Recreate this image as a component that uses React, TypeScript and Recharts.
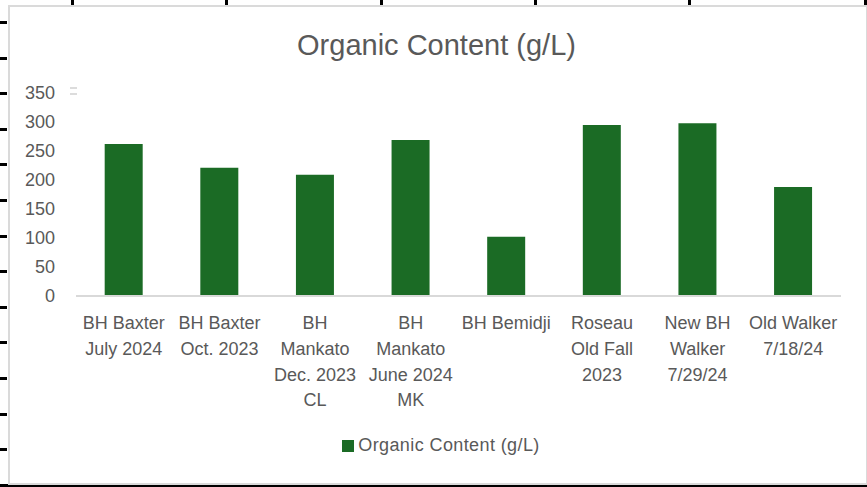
import React from "react";
import { BarChart, Bar, XAxis, YAxis, Legend } from "recharts";

// Sample names, line breaks as they wrap under the axis
const CATEGORIES = [
  "BH Baxter\nJuly 2024",
  "BH Baxter\nOct. 2023",
  "BH\nMankato\nDec. 2023\nCL",
  "BH\nMankato\nJune 2024\nMK",
  "BH Bemidji",
  "Roseau\nOld Fall\n2023",
  "New BH\nWalker\n7/29/24",
  "Old Walker\n7/18/24",
];

const ORGANIC_CONTENT = [262, 221, 209, 269, 102, 295, 298, 188];

const Y_TICKS = [0, 50, 100, 150, 200, 250, 300, 350];

const SERIES_NAME = "Organic Content (g/L)";
const BAR_COLOR = "#1B6B25";
const TEXT_COLOR = "#595959";
const FONT = "'Liberation Sans', Arial, sans-serif";

const chartData = CATEGORIES.map((name, i) => ({
  name,
  value: ORGANIC_CONTENT[i],
}));

// spreadsheet grid marks peeking around the chart object
const LEFT_MARKS = [22, 58, 93, 129, 164, 200, 236, 271, 307, 342, 378, 414, 449];
const TOP_MARKS = [72, 226, 381, 535, 689, 865];

function CategoryTick(props: any) {
  const { x, y, payload } = props;
  const lines = String(payload.value).split("\n");
  return (
    <text x={x} y={y} textAnchor="middle" fill={TEXT_COLOR} fontSize={18} fontFamily={FONT}>
      {lines.map((line, i) => (
        <tspan key={i} x={x} dy={i === 0 ? 33 : 25.8}>
          {line}
        </tspan>
      ))}
    </text>
  );
}

export default function App() {
  return (
    <div style={{ position: "absolute", left: 0, top: 0, width: 867, height: 487, background: "#fff", overflow: "hidden" }}>
      {LEFT_MARKS.map((y) => (
        <div key={`l-${y}`} style={{ position: "absolute", left: 0, top: y - 1, width: 7, height: 3, background: "#000" }} />
      ))}
      {TOP_MARKS.map((x) => (
        <div key={`t-${x}`} style={{ position: "absolute", left: x - 1, top: 0, width: 3, height: 5, background: "#000" }} />
      ))}
      <div style={{ position: "absolute", left: 0, top: 484, width: 867, height: 3, background: "#000" }} />
      <div
        style={{
          position: "absolute",
          left: 8,
          top: 5,
          width: 856,
          height: 476,
          border: "2px solid #dadada",
        }}
      />
      <div style={{ position: "absolute", left: 70, top: 87, width: 7, height: 2, background: "#dcdcdc" }} />
      <div style={{ position: "absolute", left: 70, top: 93, width: 7, height: 2, background: "#dcdcdc" }} />

      <div
        style={{
          position: "absolute",
          left: 0,
          top: 27,
          width: 873,
          textAlign: "center",
          fontFamily: FONT,
          fontSize: 29,
          color: TEXT_COLOR,
          lineHeight: "36px",
        }}
      >
        Organic Content (g/L)
      </div>

      <div style={{ position: "absolute", left: 0, top: 0 }}>
        <BarChart
          width={867}
          height={487}
          data={chartData}
          margin={{ top: 93, right: 26, left: 0, bottom: 12 }}
          barCategoryGap="30%"
        >
          <XAxis
            dataKey="name"
            interval={0}
            height={139}
            tickLine={false}
            tickSize={0}
            tickMargin={0}
            axisLine={{ stroke: "#d9d9d9", strokeWidth: 2 }}
            tick={<CategoryTick />}
          />
          <YAxis
            width={76}
            domain={[0, 350]}
            ticks={Y_TICKS}
            interval={0}
            axisLine={false}
            tickLine={false}
            tickSize={0}
            tickMargin={21}
            tick={{ fill: TEXT_COLOR, fontSize: 18, fontFamily: FONT }}
          />
          <Legend
            verticalAlign="bottom"
            align="center"
            height={40}
            iconType="square"
            iconSize={12}
            wrapperStyle={{ fontFamily: FONT, fontSize: 18, left: 0, width: 892, letterSpacing: "0.4px" }}
            formatter={(value: string) => <span style={{ color: TEXT_COLOR }}>{value}</span>}
          />
          <Bar dataKey="value" name={SERIES_NAME} fill={BAR_COLOR} isAnimationActive={false} />
        </BarChart>
      </div>
    </div>
  );
}
